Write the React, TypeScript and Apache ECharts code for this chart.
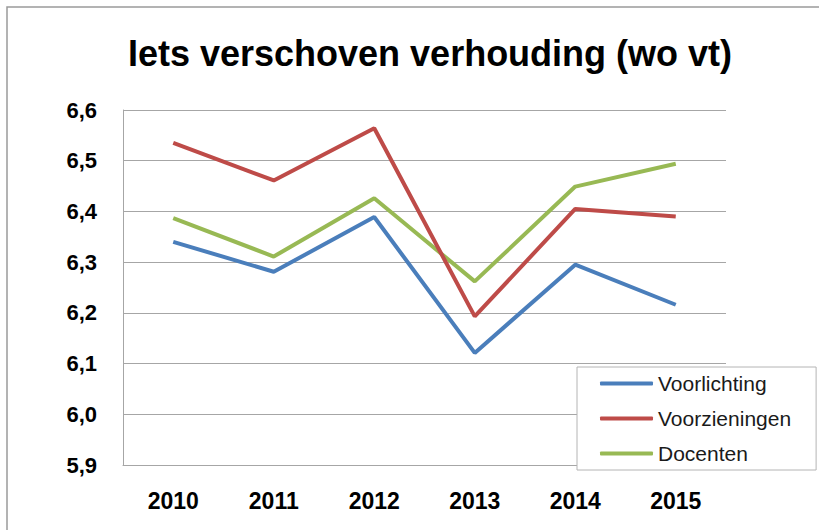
import React, { useEffect, useRef } from "react";
import * as echarts from "echarts";

const titleText = "Iets verschoven verhouding (wo vt)";
const years = ["2010", "2011", "2012", "2013", "2014", "2015"];
const voorlichting = [6.34, 6.281, 6.389, 6.121, 6.295, 6.216];
const voorzieningen = [6.535, 6.461, 6.564, 6.193, 6.405, 6.39];
const docenten = [6.387, 6.311, 6.426, 6.262, 6.449, 6.494];
const seriesNames = ["Voorlichting", "Voorzieningen", "Docenten"];
const seriesColors = ["#4a7ebb", "#be4b48", "#98b954"];

export default function App() {
  const ref = useRef<HTMLDivElement>(null);
  useEffect(() => {
    if (!ref.current) return;
    const chart = echarts.init(ref.current, undefined, { renderer: "svg" });
    const values = [voorlichting, voorzieningen, docenten];
    chart.setOption({
      animation: false,
      backgroundColor: "#ffffff",
      title: {
        text: titleText,
        left: 425,
        top: 30,
        textAlign: "center",
        textStyle: {
          fontFamily: "Liberation Sans",
          fontWeight: "bold",
          fontSize: 36,
          color: "#000000",
        },
      },
      graphic: [
        {
          type: "rect",
          shape: { x: 7, y: 7, width: 900, height: 600 },
          style: { fill: "none", stroke: "#9a9a9a", lineWidth: 1.5 },
          silent: true,
        },
      ],
      grid: { left: 123, right: 93, top: 110, bottom: 65 },
      legend: {
        orient: "vertical",
        left: 577,
        top: 367,
        padding: [6, 25, 6, 23],
        backgroundColor: "#ffffff",
        borderColor: "#b4b4b4",
        borderWidth: 1,
        itemWidth: 53,
        itemHeight: 4,
        itemGap: 14,
        icon: "roundRect",
        data: seriesNames,
        textStyle: {
          fontFamily: "Liberation Sans",
          fontSize: 21,
          lineHeight: 21,
          color: "#1a1a1a",
        },
      },
      xAxis: {
        type: "category",
        data: years,
        boundaryGap: true,
        axisLine: { show: true, lineStyle: { color: "#a6a6a6", width: 1 } },
        axisTick: { show: false },
        axisLabel: {
          margin: 24,
          fontFamily: "Liberation Sans",
          fontWeight: "bold",
          fontSize: 23,
          color: "#000000",
        },
      },
      yAxis: {
        type: "value",
        min: 5.9,
        max: 6.6,
        interval: 0.1,
        axisLine: { show: true, lineStyle: { color: "#a6a6a6", width: 1 } },
        axisTick: { show: false },
        splitLine: { show: true, lineStyle: { color: "#a6a6a6", width: 1 } },
        axisLabel: {
          margin: 26,
          fontFamily: "Liberation Sans",
          fontWeight: "bold",
          fontSize: 22,
          color: "#000000",
          formatter: (v: number) => v.toFixed(1).replace(".", ","),
        },
      },
      series: seriesNames.map((name, i) => ({
        name,
        type: "line",
        data: values[i],
        symbol: "none",
        color: seriesColors[i],
        lineStyle: { color: seriesColors[i], width: 4 },
        z: 3 - i,
      })),
    });
    return () => chart.dispose();
  }, []);
  return (
    <div
      ref={ref}
      style={{ position: "fixed", left: 0, top: 0, width: 819, height: 530 }}
    />
  );
}
